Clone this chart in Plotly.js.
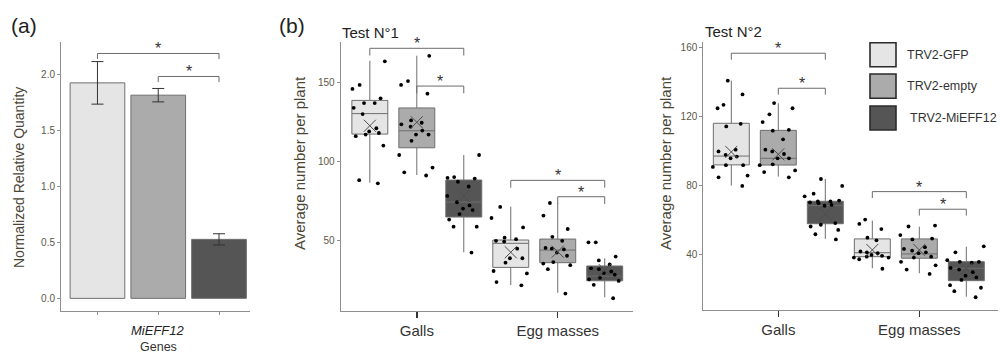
<!DOCTYPE html>
<html><head><meta charset="utf-8">
<script src="https://cdn.plot.ly/plotly-3.0.1.min.js"></script>
<style>html,body{margin:0;padding:0;background:#fff}#chart{width:1000px;height:356px}</style>
</head><body><div id="chart"></div>
<script>
// ---------------- DATA ----------------
const treatments = ['TRV2-GFP', 'TRV2-empty', 'TRV2-MiEFF12'];
const categories = ['Galls', 'Egg masses'];
const geneLabel = 'MiEFF12';

// (a) qPCR
const qpcrValues = [1.925, 1.815, 0.527];
const qpcrErrors = [0.19, 0.06, 0.05];

// (b) Test N°1 box statistics: [treatment][category]
const t1Q1   = [[117.3, 32.6], [108.6, 35.6], [64.6, 24.1]];
const t1Med  = [[130.3, 47.9], [119.4, 43.6], [74.1, 27.1]];
const t1Q3   = [[138.7, 50.0], [133.9, 50.6], [88.1, 33.5]];
const t1Lo   = [[86.4, 21.4], [91.3, 16.5], [42.2, 13.6]];
const t1Hi   = [[163.9, 71.2], [167.1, 73.3], [104.0, 38.4]];
const t1Mean = [[122.6, 42.2], [124.8, 42.6], [77.9, 30.9]];
// Test N°1 individual plants
const t1Galls = [
  [163.5, 148.5, 146, 140, 137, 137, 134, 130, 121, 118, 119, 117, 116, 110, 88, 86],
  [167, 151, 148.5, 143, 126, 124.5, 123.5, 122, 119.5, 117, 117, 113, 104, 96, 93, 91],
  [104, 90, 89.5, 89, 87, 84, 78, 74, 72, 70, 69, 66.5, 63, 58.5, 58.5, 42]
];
const t1Eggs = [
  [71, 64, 58, 51.5, 50.5, 49.5, 49, 44.5, 38.4, 38.4, 35.6, 30.3, 28.8, 23.3, 21.2],
  [73.5, 65.5, 57, 52, 49.5, 45, 44.5, 44, 42, 40, 36, 35, 34, 31.5, 16],
  [48.5, 48.5, 39.5, 37, 34.5, 32, 31.5, 30, 29, 28, 26, 25, 24, 21.5, 13]
];

// Test N°2 box statistics
const t2Q1   = [[92.2, 39.0], [92.1, 38.1], [58.1, 25.1]];
const t2Med  = [[97.3, 41.3], [96.0, 40.6], [68.6, 32.3]];
const t2Q3   = [[116.3, 49.3], [112.2, 49.3], [71.1, 36.1]];
const t2Lo   = [[80.2, 32.3], [85.4, 29.4], [49.3, 15.8]];
const t2Hi   = [[141.0, 59.9], [127.9, 56.4], [84.0, 44.8]];
const t2Mean = [[99.7, 42.9], [98.3, 42.9], [63.7, 31.9]];
const t2Galls = [
  [141, 133, 127, 125, 116, 114.5, 101, 100, 98, 97, 96, 92, 92, 91, 86, 85, 80],
  [128, 125, 121.5, 117, 112.5, 112, 107, 101, 100, 98.5, 96, 96, 92.5, 92, 89, 88, 85],
  [84, 80, 75.5, 74, 71.5, 71, 71, 70.5, 70, 69, 68.5, 58.5, 57.5, 56.5, 54.5, 52, 49]
];
const t2Eggs = [
  [60.5, 58, 55, 50, 48.5, 42, 41.5, 41, 40, 39.5, 39, 38.5, 38.5, 37.5, 32],
  [57, 56.5, 51.5, 49.5, 49, 44.5, 43.5, 42.5, 41.5, 41, 39, 38.5, 36, 34, 31.5, 29],
  [45, 41.5, 37, 36, 36, 35.5, 32.5, 31.5, 30, 28, 27, 25.5, 22.5, 21, 19, 15.5]
];

// significance comparisons (treatment index pairs) and bracket heights
const sigPairs = [[0, 2], [1, 2]];
const qpcrSigY = [2.1875, 1.982];
const t1SigY = [[171.8, 147.8], [87.9, 77.5]];   // [category][pair]
const t2SigY = [[156.9, 136.6], [76.7, 66.5]];

// ---------------- STYLE ----------------
const FONT = 'Liberation Sans, Arial, Helvetica, sans-serif';
const fills = ['#e5e5e5', '#ababab', '#555555'];
const boxLine = '#6e6e6e';
const axisCol = '#8e8e8e';
const tickLabCol = '#5b5849';
const titleCol = '#4a4636';
const dodge = 1 / 3;
const boxW = 0.255;
const ptsW = 0.32;
const W = 1000, H = 356;
const px = v => v / W;
const py = v => 1 - v / H;

const data = [];
const shapes = [];
const annotations = [];

// ---- panel (a) ----
data.push({
  type: 'bar', xaxis: 'x', yaxis: 'y',
  x: treatments.map((t, i) => i), y: qpcrValues, width: 0.9,
  marker: {color: fills, line: {color: '#707070', width: 1}},
  error_y: {type: 'data', array: qpcrErrors, visible: true, color: '#333', thickness: 1, width: 6},
  hoverinfo: 'skip', showlegend: false
});

function bracket(xref, yref, x0, x1, y, drop, starShift) {
  shapes.push({type: 'path', xref, yref,
    path: `M ${x0},${y - drop} L ${x0},${y} L ${x1},${y} L ${x1},${y - drop}`,
    line: {color: '#6b6b6b', width: 1}});
  annotations.push({xref, yref, x: (x0 + x1) / 2, y, text: '*', showarrow: false,
    yanchor: 'bottom', yshift: starShift, font: {family: FONT, size: 16, color: '#333'}});
}
sigPairs.forEach((p, k) => bracket('x', 'y', p[0], p[1], qpcrSigY[k], 0.05, -6));

// ---- panel (b) boxes ----
function boxPanel(xa, ya, Q1, Med, Q3, Lo, Hi, Mean, galls, eggs, sigY, drop) {
  const pos = (i, j) => (j + 1) + (i - 1) * dodge;
  treatments.forEach((t, i) => {
    data.push({
      type: 'box', xaxis: xa, yaxis: ya, orientation: 'v',
      x: categories.map((c, j) => pos(i, j)),
      q1: Q1[i], median: Med[i], q3: Q3[i], lowerfence: Lo[i], upperfence: Hi[i],
      width: boxW, fillcolor: fills[i], line: {color: boxLine, width: 1},
      whiskerwidth: 0, boxpoints: false, hoverinfo: 'skip', showlegend: false
    });
  });
  [galls, eggs].forEach((set, j) => {
    set.forEach((vals, i) => {
      data.push({
        type: 'box', xaxis: xa, yaxis: ya,
        x: vals.map(() => pos(i, j)), y: vals,
        boxpoints: 'all', jitter: 1, pointpos: 0, width: ptsW,
        fillcolor: 'rgba(0,0,0,0)', line: {color: 'rgba(0,0,0,0)', width: 0},
        whiskerwidth: 0, marker: {color: '#000', size: 3.8},
        hoverinfo: 'skip', showlegend: false
      });
    });
  });
  treatments.forEach((t, i) => {
    data.push({
      type: 'scatter', mode: 'markers', xaxis: xa, yaxis: ya,
      x: categories.map((c, j) => pos(i, j)), y: Mean[i],
      marker: {symbol: 'x-thin-open', size: 12, color: '#4d4d4d', line: {color: '#4d4d4d', width: 1}},
      hoverinfo: 'skip', showlegend: false
    });
  });
  categories.forEach((c, j) => {
    sigPairs.forEach((p, k) => bracket(xa, ya, pos(p[0], j), pos(p[1], j), sigY[j][k], drop, -6));
  });
}
boxPanel('x2', 'y2', t1Q1, t1Med, t1Q3, t1Lo, t1Hi, t1Mean, t1Galls, t1Eggs, t1SigY, 4.6);
boxPanel('x3', 'y3', t2Q1, t2Med, t2Q3, t2Lo, t2Hi, t2Mean, t2Galls, t2Eggs, t2SigY, 3.7);

// ---- legend ----
const legY = [[42.7, 66.7], [74, 98.3], [106, 130]];
const legTextX = [905, 905, 908];
treatments.forEach((t, i) => {
  shapes.push({type: 'rect', xref: 'paper', yref: 'paper',
    x0: px(870), x1: px(896), y0: py(legY[i][1]), y1: py(legY[i][0]),
    fillcolor: fills[i], line: {color: '#2b2b2b', width: 1.6}});
  annotations.push({xref: 'paper', yref: 'paper', x: px(legTextX[i]), y: py((legY[i][0] + legY[i][1]) / 2),
    xanchor: 'left', yanchor: 'middle', showarrow: false, text: t,
    font: {family: FONT, size: 12.5, color: '#333'}});
});

// ---- text labels ----
function txt(x, y, text, size, opts) {
  annotations.push(Object.assign({xref: 'paper', yref: 'paper', x: px(x), y: py(y), text,
    showarrow: false, xanchor: 'center', yanchor: 'middle',
    font: {family: FONT, size, color: '#222'}}, opts || {}));
}
txt(24, 25, '(a)', 21);
txt(292, 25, '(b)', 21);
txt(340, 32, 'Test N°1', 15, {xanchor: 'left'});
txt(703, 31, 'Test N°2', 15, {xanchor: 'left'});
txt(158, 330, '<i>' + geneLabel + '</i>', 13, {font: {family: FONT, size: 13, color: '#222'}});
txt(158, 347, 'Genes', 12.5, {font: {family: FONT, size: 12.5, color: '#333'}});
txt(19, 178, 'Normalized Relative Quantity', 14, {textangle: -90, font: {family: FONT, size: 14, color: titleCol}});
txt(300, 163, 'Average number per plant', 15, {textangle: -90, font: {family: FONT, size: 15, color: titleCol}});
txt(666, 163, 'Average number per plant', 15, {textangle: -90, font: {family: FONT, size: 15, color: titleCol}});

// ---------------- LAYOUT ----------------
const yAx = (domain, range, tickvals, fmt) => ({
  domain, range, tickvals, tickformat: fmt, showline: true, linecolor: axisCol, linewidth: 1,
  ticks: 'outside', ticklen: 3, tickcolor: axisCol, showgrid: false, zeroline: false,
  tickfont: {family: FONT, size: 10, color: tickLabCol}
});
const xAxB = (domain, range, anchor) => ({
  domain, range, anchor, tickvals: [1, 2], ticktext: categories, showline: true, linecolor: axisCol,
  ticks: 'outside', ticklen: 6, tickwidth: 1.5, tickcolor: '#333', showgrid: false, zeroline: false,
  tickfont: {family: FONT, size: 15, color: '#333'}
});
const yDom = [py(311), py(42)];
const layout = {
  width: W, height: H, margin: {l: 0, r: 0, t: 0, b: 0},
  paper_bgcolor: '#fff', plot_bgcolor: '#fff', showlegend: false,
  font: {family: FONT},
  xaxis: {domain: [px(61), px(250)], range: [-0.6, 2.51], anchor: 'y', tickvals: [0, 1, 2],
    ticktext: ['', '', ''], showline: true, linecolor: axisCol, ticks: 'outside', ticklen: 3,
    tickcolor: axisCol, showgrid: false, zeroline: false},
  yaxis: Object.assign(yAx(yDom, [-0.113, 2.29], [0, 0.5, 1, 1.5, 2], '.1f'), {anchor: 'x'}),
  xaxis2: xAxB([px(340.7), px(633)], [0.46, 2.534], 'y2'),
  yaxis2: Object.assign(yAx(yDom, [4.9, 175.8], [50, 100, 150], 'd'), {anchor: 'x2'}),
  xaxis3: xAxB([px(703.3), px(998)], [0.468, 2.558], 'y3'),
  yaxis3: Object.assign(yAx([py(310), py(42)], [8.1, 163.4], [40, 80, 120, 160], 'd'), {anchor: 'x3'}),
  shapes, annotations
};
Plotly.newPlot('chart', data, layout, {staticPlot: true, displayModeBar: false});
</script></body></html>
